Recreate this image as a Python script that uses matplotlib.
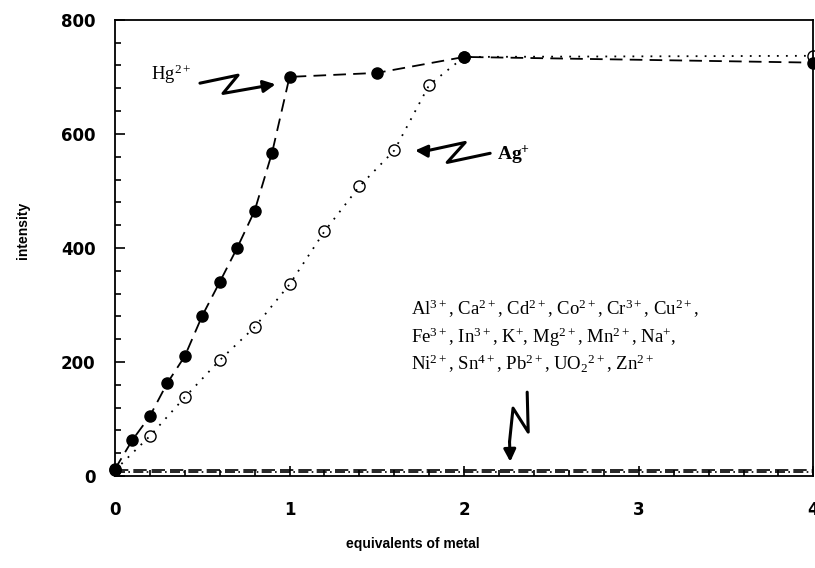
import numpy as np
import matplotlib
matplotlib.use("Agg")
import matplotlib.pyplot as plt
from matplotlib.ticker import MultipleLocator

plt.rcParams['mathtext.fontset'] = 'custom'
plt.rcParams['mathtext.rm'] = 'Liberation Serif'
plt.rcParams['mathtext.it'] = 'Liberation Serif'
plt.rcParams['mathtext.bf'] = 'Liberation Serif:bold'

# Hg2+ titration (filled circles)
hg_x = [0, 0.1, 0.2, 0.3, 0.4, 0.5, 0.6, 0.7, 0.8, 0.9, 1.0, 1.5, 2.0, 4.0]
hg_y = [12, 63, 105, 163, 210, 281, 340, 400, 465, 567, 700, 707, 735, 725]

# Ag+ titration (open circles)
ag_x = [0, 0.2, 0.4, 0.6, 0.8, 1.0, 1.2, 1.4, 1.6, 1.8, 2.0, 4.0]
ag_y = [10, 70, 138, 203, 261, 336, 429, 508, 571, 686, 735, 737]

# other metal ions, flat response
base_x = [0, 4]
base_y1 = [10, 10]
base_y2 = [7, 7]

other_ions = [
    r"Al$^{3+}$, Ca$^{2+}$, Cd$^{2+}$, Co$^{2+}$, Cr$^{3+}$, Cu$^{2+}$,",
    r"Fe$^{3+}$, In$^{3+}$, K$^{+}$, Mg$^{2+}$, Mn$^{2+}$, Na$^{+}$,",
    r"Ni$^{2+}$, Sn$^{4+}$, Pb$^{2+}$, UO$_2$$^{2+}$, Zn$^{2+}$",
]

sans = 'DejaVu Sans'

fig = plt.figure(figsize=(8.15, 5.68), dpi=100)
ax = fig.add_axes([0.141, 0.162, 0.857, 0.803])

ax.plot(base_x, base_y1, color='black', lw=1.2, ls=(0, (8, 3)))
ax.plot(base_x, base_y2, color='black', lw=1.2, ls=(0, (6, 2, 1, 2)))

ax.plot(hg_x, hg_y, color='black', lw=1.3, ls=(0, (7, 4)),
        marker='o', ms=8, mfc='black', mec='black', clip_on=False, zorder=3)
ax.plot(ag_x, ag_y, color='black', lw=1.3, ls=(0, (1, 4)),
        marker='o', ms=8, mfc='none', mec='black', mew=1.0, clip_on=False, zorder=3)

ax.set_xlim(0, 4)
ax.set_ylim(0, 800)
ax.xaxis.set_major_locator(MultipleLocator(1))
ax.xaxis.set_minor_locator(MultipleLocator(0.2))
ax.yaxis.set_major_locator(MultipleLocator(200))
ax.yaxis.set_minor_locator(MultipleLocator(40))
ax.tick_params(which='both', direction='in', top=False, right=False, width=1.2)
ax.tick_params(which='major', length=7)
ax.tick_params(which='minor', length=4)
ax.tick_params(axis='x', pad=18)
ax.tick_params(axis='y', pad=14)
for lab in ax.get_xticklabels() + ax.get_yticklabels():
    lab.set_fontfamily(sans)
    lab.set_fontweight('bold')
    lab.set_fontsize(12)
for sp in ax.spines.values():
    sp.set_linewidth(1.3)

ax.set_xlabel('equivalents of metal', fontfamily='Liberation Sans',
              fontweight='bold', fontsize=10)
ax.xaxis.set_label_coords(0.427, -0.134)
ax.set_ylabel('intensity', fontfamily='Liberation Sans',
              fontweight='bold', fontsize=10)
ax.yaxis.set_label_coords(-0.122, 0.539)

# squiggly arrows
def squiggle(pts):
    xs = [p[0] for p in pts[:-1]]
    ys = [p[1] for p in pts[:-1]]
    ax.plot(xs, ys, color='black', lw=2.2, solid_capstyle='round')
    ax.annotate('', xy=pts[-1], xytext=pts[-2],
                arrowprops=dict(arrowstyle='-|>', color='black', lw=2.2,
                                mutation_scale=18, shrinkA=0, shrinkB=0))

squiggle([(0.487, 689), (0.705, 703), (0.619, 671), (0.86, 684), (0.92, 687)])
squiggle([(2.149, 566), (1.903, 550), (2.006, 585), (1.78, 570), (1.719, 571)])
squiggle([(2.361, 147), (2.367, 77), (2.28, 119), (2.26, 60), (2.264, 25)])

ax.text(0.44, 694, r"Hg$^{2+}$", ha='right', va='baseline',
        fontfamily='Liberation Serif', fontsize=13.5)
ax.text(2.19, 554, r"$\mathbf{Ag^{+}}$", ha='left', va='baseline',
        fontfamily='Liberation Serif', fontweight='bold', fontsize=14)

for i, line in enumerate(other_ions):
    ax.text(1.697, 282 - 48 * i, line, ha='left', va='baseline',
            fontfamily='Liberation Serif', fontsize=13.5)

fig.savefig('out.png', dpi=100)
